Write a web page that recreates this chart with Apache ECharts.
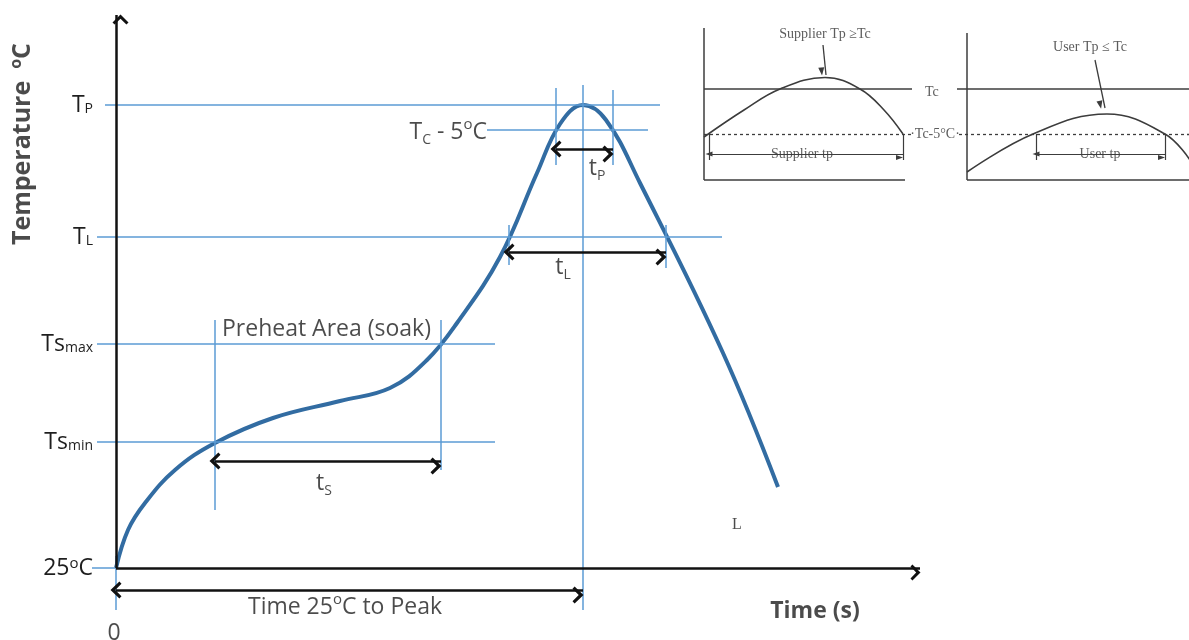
<!DOCTYPE html>
<html><head><meta charset="utf-8">
<script src="https://cdn.jsdelivr.net/npm/echarts@6/dist/echarts.min.js"></script>
<style>html,body{margin:0;padding:0;background:#fff}#c{width:1189px;height:640px}</style>
</head><body><div id="c"></div>
<script>
// ---------- main reflow profile (time units / level units above 25°C) ----------
const profileTime = [0, 6, 14.5, 29.5, 49.5, 78.5, 112, 137, 155.5, 170.5, 192, 210.5, 222, 233.5, 245, 262, 303.5, 331];
const profileTemp = [0, 19, 32.5, 49, 62.5, 75, 83.5, 90, 104, 122.5, 155.5, 197.5, 222, 231.5, 224, 192.5, 107.5, 40.5];

// y tick labels (temperature levels)
const levelLabels = ['25{sup|o}C', 'Ts{sub|min}', 'Ts{sub|max}', 'T{sub|L}', 'T{sub|P}'];
const levelValues = [0, 63, 112, 165.5, 231.5];

// horizontal guide lines: [level, fromTime, toTime]
const hGuides = [[231.5, -5.5, 272], [219, 185.5, 266], [165.5, -9.5, 303], [112, -9.5, 189.5], [63, -9.5, 189.5], [0, -12, 0]];
// vertical guide lines: [time, fromLevel, toLevel]
const vGuides = [[0, -21, 6], [49.5, 29, 124], [162.5, 49, 124], [233.5, -21, 241.5], [220, 201.5, 240], [248.5, 201.5, 239], [196.5, 151.5, 171.5], [275, 150, 171.5]];
// double arrows (durations): [level, fromTime, toTime]
const spans = [[53.5, 49.5, 162.5], [158, 196.5, 275], [209.5, 220, 248.5], [-11, 0, 233.5]];
// axis extents
const axisX = [0, 402];
const axisY = [0, 276.5];
// annotations: [time, level, text, align, rotate]
const mainNotes = [
  [53, 119.5, 'Preheat Area (soak)', 'left', 0],
  [104, 42.5, 't{sub|S}', 'center', 0],
  [223.5, 150.5, 't{sub|L}', 'center', 0],
  [240.5, 200, 't{sub|P}', 'center', 0],
  [185.5, 218, 'T{sub|C} - 5{sup|o}C', 'right', 0],
  [114.5, -19.5, 'Time 25{sup|o}C to Peak', 'center', 0],
  [-1, -32.5, '0', 'center', 0],
  [349.5, -21.5, '{b|Time (s)}', 'center', 0],
  [310.5, 21.5, '{serif|L}', 'center', 0],
  [-46.5, 212, '{bt|Temperature}  {bsup|o}{bt|C}', 'center', 90]
];

// ---------- inset A: supplier ----------
const supCurveX = [0, 40, 76, 121, 156, 180, 199];
const supCurveY = [43, 70, 91, 102.5, 91, 70, 46];
const supAxes = [[[0, 0], [0, 152]], [[0, 0], [201, 0]]];
const supTc = [[0, 91], [208, 91]];
const supTc5 = [[0, 46], [208, 46]];
const supTicks = [[[5, 20], [5, 46]], [[199, 20], [199, 46]]];
const supSpan = [[5, 26], [199, 26]];
const supPointer = [[119, 135], [122, 105]];
const supNotes = [[121, 146, 'Supplier Tp ≥Tc', false], [221, 88, 'Tc', false], [231, 46, '·Tc-5°C·', true], [98, 26, 'Supplier tp', true]];

// ---------- inset B: user ----------
const userCurveX = [0, 66, 140, 198, 223];
const userCurveY = [8, 46, 66, 46, 20];
const userAxes = [[[0, 0], [0, 147]], [[0, 0], [222, 0]]];
const userTc = [[-10, 91], [222, 91]];
const userTc5 = [[-8, 46], [222, 46]];
const userTicks = [[[69, 20], [69, 46]], [[198, 20], [198, 46]]];
const userSpan = [[69, 26], [198, 26]];
const userPointer = [[128, 120], [138, 72]];
const userNotes = [[123, 133, 'User Tp ≤ Tc', false], [133, 26, 'User tp', true]];

// ---------- styles ----------
const CHEV = 'path://M10,0 L20,10.5 L17.4,13 L10,5.6 L2.6,13 L0,10.5 Z';
const BLUE = '#5b9bd5', CURVE = '#326ca2', INK = '#111', TXT = '#1e1e1e', GREY = '#3c3c3c';
const FONT = 'Open Sans';
const rich = {
  sub: { fontFamily: FONT, fontSize: 14, color: TXT, verticalAlign: 'bottom', lineHeight: 14 },
  sup: { fontFamily: FONT, fontSize: 15, color: TXT, verticalAlign: 'top', lineHeight: 15 },
  b: { fontFamily: FONT, fontSize: 23, fontWeight: 'bold', color: TXT, lineHeight: 30 },
  bt: { fontFamily: FONT, fontSize: 25, fontWeight: 'bold', color: TXT, lineHeight: 30 },
  bsup: { fontFamily: FONT, fontSize: 16, fontWeight: 'bold', color: TXT, verticalAlign: 'top', lineHeight: 15 },
  serif: { fontFamily: 'Liberation Serif', fontSize: 16, color: TXT }
};

function segLines(grid, segs, lineStyle, symbol, size, offset) {
  return {
    type: 'line', xAxisIndex: grid, yAxisIndex: grid, data: [], silent: true,
    markLine: {
      silent: true, animation: false, symbol: symbol || 'none', symbolSize: size || 10,
      symbolOffset: offset || 0, label: { show: false }, emphasis: { disabled: true },
      lineStyle: lineStyle, data: segs.map(s => [{ coord: s[0] }, { coord: s[1] }])
    }
  };
}
function curve(grid, xs, ys, color, width, smooth) {
  return {
    type: 'line', xAxisIndex: grid, yAxisIndex: grid, smooth: smooth, showSymbol: false, clip: false, silent: true,
    lineStyle: { color: color, width: width }, data: xs.map((x, i) => [x, ys[i]])
  };
}
function notes(grid, list, baseLabel, mapItem) {
  return {
    type: 'scatter', xAxisIndex: grid, yAxisIndex: grid, symbolSize: 0, silent: true, clip: false,
    label: Object.assign({ show: true, position: 'inside', formatter: p => p.name }, baseLabel),
    data: list.map(mapItem)
  };
}

const chart = echarts.init(document.getElementById('c'), null, { renderer: 'canvas' });
chart.setOption({
  animation: false,
  backgroundColor: '#fff',
  grid: [
    { left: 0, right: 269, top: 15, bottom: 0, outerBoundsMode: 'none' },
    { left: 690, top: 20, width: 270, height: 170, outerBoundsMode: 'none' },
    { left: 940, top: 20, width: 249, height: 170, outerBoundsMode: 'none' }
  ],
  xAxis: [
    { type: 'value', gridIndex: 0, min: -58, max: 402, show: false, axisLine: { onZero: false } },
    { type: 'value', gridIndex: 1, min: -14, max: 256, show: false },
    { type: 'value', gridIndex: 2, min: -27, max: 222, show: false }
  ],
  yAxis: [
    {
      type: 'value', gridIndex: 0, min: -36, max: 276.5, position: 'left', offset: -116,
      axisLine: { show: false, onZero: false }, axisTick: { show: false }, splitLine: { show: false },
      axisLabel: {
        customValues: levelValues, margin: 23, color: TXT, fontFamily: FONT, fontSize: 23,
        formatter: v => levelLabels[levelValues.indexOf(v)] || '', rich: rich
      }
    },
    { type: 'value', gridIndex: 1, min: -10, max: 160, show: false },
    { type: 'value', gridIndex: 2, min: -10, max: 160, show: false }
  ],
  series: [
    segLines(0, hGuides.map(g => [[g[1], g[0]], [g[2], g[0]]]), { color: BLUE, width: 1.5, type: 'solid' }),
    segLines(0, vGuides.map(g => [[g[0], g[1]], [g[0], g[2]]]), { color: BLUE, width: 1.5, type: 'solid' }),
    segLines(0, [[[axisX[0], 0], [axisX[1], 0]], [[0, axisY[0]], [0, axisY[1]]]], { color: INK, width: 2.5, type: 'solid' }, ['none', CHEV], [16, 10], [0, 4.5]),
    curve(0, profileTime, profileTemp, CURVE, 4, 0.4),
    segLines(0, spans.map(s => [[s[1], s[0]], [s[2], s[0]]]), { color: INK, width: 2.7, type: 'solid' }, [CHEV, CHEV], [17, 11], [0, 5]),
    notes(0, mainNotes, { color: TXT, fontFamily: FONT, fontSize: 23, lineHeight: 30, rich: rich }, n => ({
      name: n[2], value: [n[0], n[1]], label: { align: n[3], verticalAlign: 'middle', rotate: n[4] }
    })),

    segLines(1, supAxes, { color: GREY, width: 1.5, type: 'solid' }),
    segLines(1, [supTc], { color: GREY, width: 1.5, type: 'solid' }),
    segLines(1, [supTc5], { color: GREY, width: 1.3, type: [3, 3] }),
    segLines(1, supTicks, { color: GREY, width: 1.2, type: 'solid' }),
    segLines(1, [supSpan], { color: GREY, width: 1.2, type: 'solid' }, ['triangle', 'triangle'], [5, 7], [0, 3.5]),
    segLines(1, [supPointer], { color: GREY, width: 1.3, type: 'solid' }, ['none', 'triangle'], [6, 8], [0, 4]),
    curve(1, supCurveX, supCurveY, GREY, 1.6, 0.4),
    notes(1, supNotes, { color: '#333', fontFamily: 'Liberation Serif', fontSize: 14 }, n => ({
      name: n[2], value: [n[0], n[1]],
      label: n[3] ? { align: 'center', verticalAlign: 'middle', backgroundColor: '#fff', padding: [0, 5] } : { align: n[0] > 200 ? 'left' : 'center', verticalAlign: 'middle' }
    })),

    segLines(2, userAxes, { color: GREY, width: 1.5, type: 'solid' }),
    segLines(2, [userTc], { color: GREY, width: 1.5, type: 'solid' }),
    segLines(2, [userTc5], { color: GREY, width: 1.3, type: [3, 3] }),
    segLines(2, userTicks, { color: GREY, width: 1.2, type: 'solid' }),
    segLines(2, [userSpan], { color: GREY, width: 1.2, type: 'solid' }, ['triangle', 'triangle'], [5, 7], [0, 3.5]),
    segLines(2, [userPointer], { color: GREY, width: 1.3, type: 'solid' }, ['none', 'triangle'], [6, 8], [0, 4]),
    curve(2, userCurveX, userCurveY, GREY, 1.6, 0.4),
    notes(2, userNotes, { color: '#333', fontFamily: 'Liberation Serif', fontSize: 14 }, n => ({
      name: n[2], value: [n[0], n[1]],
      label: n[3] ? { align: 'center', verticalAlign: 'middle', backgroundColor: '#fff', padding: [0, 5] } : { align: 'center', verticalAlign: 'middle' }
    }))
  ]
});
</script></body></html>
